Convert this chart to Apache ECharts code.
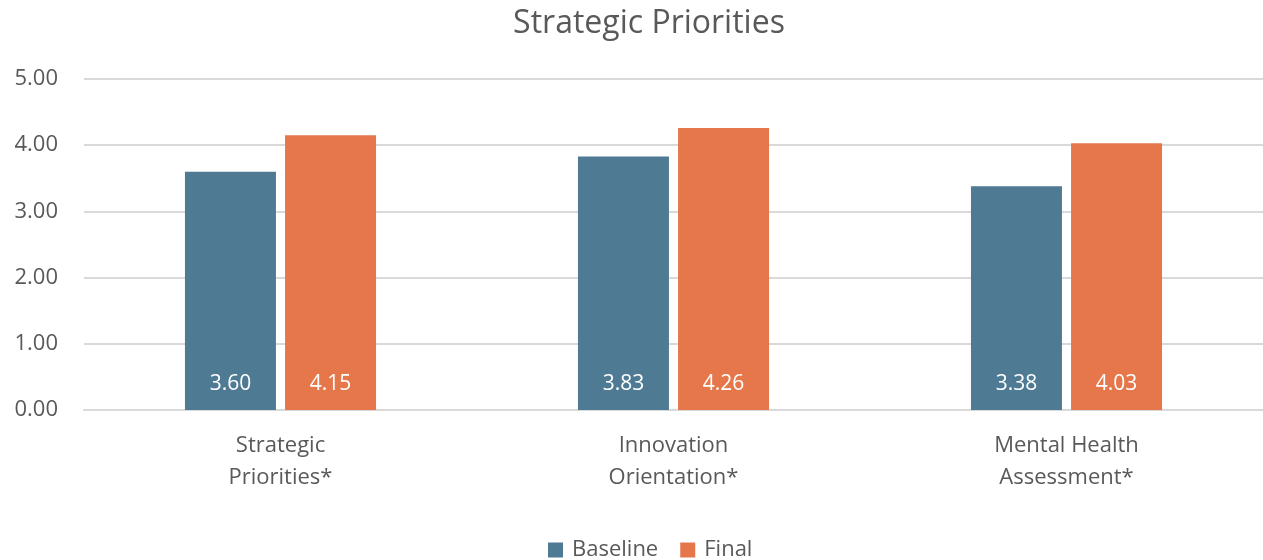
<!DOCTYPE html>
<html><head><meta charset="utf-8">
<script src="https://cdn.jsdelivr.net/npm/echarts@6/dist/echarts.min.js"></script>
<style>html,body{margin:0;padding:0;background:#fff}#c{width:1263px;height:560px}</style>
</head><body><div id="c"></div>
<script>
const categories = ["Strategic\nPriorities*", "Innovation\nOrientation*", "Mental Health\nAssessment*"];
const baseline = [3.60, 3.83, 3.38];
const finalVals = [4.15, 4.26, 4.03];
const seriesNames = ["Baseline", "Final"];
const font = "'Open Sans', sans-serif";
const txt = "#595959";
const chart = echarts.init(document.getElementById('c'));
const lbl = {show:true, position:'insideBottom', distance:15, color:'#fff', fontSize:21, fontFamily:font, formatter:p=>p.value.toFixed(2)};
chart.setOption({
  animation:false,
  title:{text:"Strategic Priorities", left:644, textAlign:'center', top:3, textStyle:{color:txt, fontSize:32, fontWeight:'normal', fontFamily:font}},
  legend:{data:seriesNames, bottom:-6, left:543, itemWidth:15, itemHeight:15, itemGap:22, icon:'rect',
    textStyle:{color:txt, fontSize:22, fontFamily:font, padding:[0,0,0,4]}},
  grid:{left:84, right:0, top:79, bottom:150, containLabel:false},
  xAxis:{type:'category', data:categories, axisLine:{show:true, lineStyle:{color:'#d9d9d9', width:2}}, axisTick:{show:false},
    axisLabel:{color:txt, fontSize:22, fontFamily:font, lineHeight:32, margin:20}},
  yAxis:{type:'value', min:0, max:5, interval:1, axisLine:{show:false}, axisTick:{show:false},
    splitLine:{lineStyle:{color:'#d9d9d9', width:2}},
    axisLabel:{color:txt, fontSize:22, fontFamily:font, margin:26, formatter:v=>v.toFixed(2)}},
  series:[
    {name:seriesNames[0], type:'bar', data:baseline, barWidth:91, barGap:'10%', itemStyle:{color:'#4E7A94'}, label:lbl},
    {name:seriesNames[1], type:'bar', data:finalVals, barWidth:91, itemStyle:{color:'#E5774B'}, label:lbl}
  ]
});
</script></body></html>
